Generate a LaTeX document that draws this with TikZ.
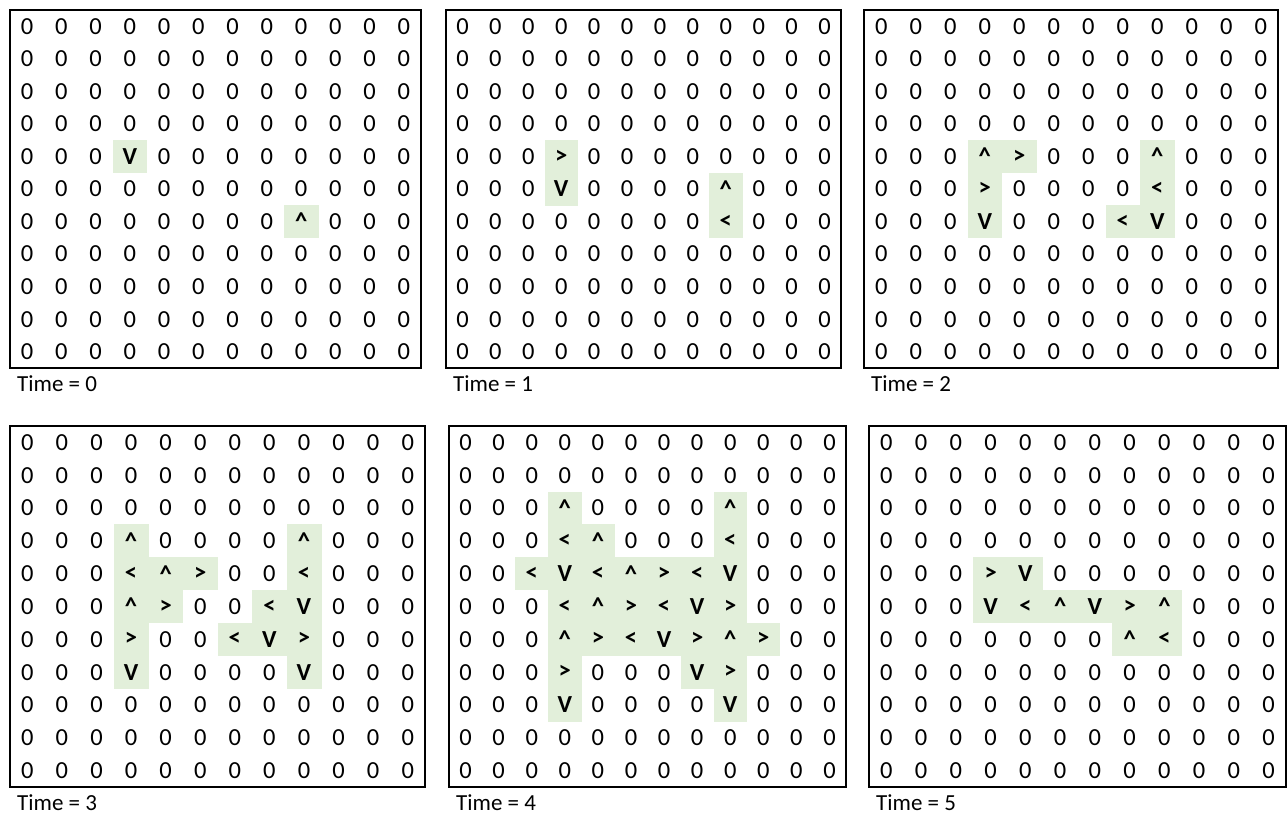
\documentclass[tikz,border=0pt]{standalone}
\usepackage{fontspec}
\setmainfont{Carlito}
\usetikzlibrary{positioning}

\definecolor{cellgreen}{HTML}{E2EFDA}

% glyph for each direction
\newcommand\glu{\textasciicircum}
\newcommand\gld{V}
\newcommand\gll{<}
\newcommand\glr{>}

% store the non-zero cells of one panel
\newcommand\setmoves[2]{%
  \foreach \row/\col/\dir in {#2}{\expandafter\xdef\csname mv#1-\row-\col\endcsname{\dir}}}

% one grid: id, left, top, right, bottom, time
\newcommand\drawpanel[6]{%
  \pgfmathsetmacro\cw{(#4-#2)/12}
  \pgfmathsetmacro\ch{(#5-#3)/11}
  \foreach \row in {0,...,10}{
    \foreach \col in {0,...,11}{
      \ifcsname mv#1-\row-\col\endcsname
        \fill[shade] ({#2+\col*\cw},{#3+\row*\ch}) rectangle ++({\cw+0.4},{\ch+0.4});
        \node[movecell] (p#1-\row-\col) at ({#2+(\col+0.5)*\cw},{#3+(\row+0.5)*\ch})
          {\csname gl\csname mv#1-\row-\col\endcsname\endcsname};
      \else
        \node[zerocell] (p#1-\row-\col) at ({#2+(\col+0.5)*\cw},{#3+(\row+0.5)*\ch}) {0};
      \fi
    }
  }
  \draw[frame] (#2,#3) rectangle (#4,#5);
  \draw[frame, line width=2] (#4,#3) -- (#4,#5) -- (#2,#5);
  \node[timelabel] (t#1) at (#2+7,#5+16) {Time = #6};
}

\begin{document}
\begin{tikzpicture}[
  x=1pt, y=-1pt,
  zerocell/.style={inner sep=0pt, font=\fontsize{24.5}{26}\selectfont},
  movecell/.style={inner sep=0pt, font=\fontsize{24.5}{26}\selectfont\bfseries},
  shade/.style={fill=cellgreen},
  frame/.style={draw=black, line width=1.1},
  timelabel/.style={anchor=west, inner sep=0pt, font=\fontsize{23}{25}\selectfont}
]
\useasboundingbox (0,0) rectangle (1288,814);

\setmoves{0}{4/3/d, 6/8/u}
\setmoves{1}{4/3/r, 5/3/d, 5/8/u, 6/8/l}
\setmoves{2}{4/3/u, 4/4/r, 5/3/r, 6/3/d, 4/8/u, 5/8/l, 6/7/l, 6/8/d}
\setmoves{3}{3/3/u, 4/3/l, 4/4/u, 4/5/r, 5/3/u, 5/4/r, 6/3/r, 7/3/d,
  3/8/u, 4/8/l, 5/7/l, 5/8/d, 6/6/l, 6/7/d, 6/8/r, 7/8/d}
\setmoves{4}{2/3/u, 2/8/u, 3/3/l, 3/4/u, 3/8/l,
  4/2/l, 4/3/d, 4/4/l, 4/5/u, 4/6/r, 4/7/l, 4/8/d,
  5/3/l, 5/4/u, 5/5/r, 5/6/l, 5/7/d, 5/8/r,
  6/3/u, 6/4/r, 6/5/l, 6/6/d, 6/7/r, 6/8/u, 6/9/r,
  7/3/r, 7/7/d, 7/8/r, 8/3/d, 8/8/d}
\setmoves{5}{4/3/r, 4/4/d, 5/3/d, 5/4/l, 5/5/u, 5/6/d, 5/7/r, 5/8/u, 6/7/u, 6/8/l}

% top row
\drawpanel{0}{10}{10}{421}{368}{0}
\drawpanel{1}{446}{10}{841}{368}{1}
\drawpanel{2}{864}{10}{1278}{368}{2}
% bottom row
\drawpanel{3}{10}{426}{425}{787}{3}
\drawpanel{4}{449}{426}{846}{787}{4}
\drawpanel{5}{869}{426}{1286}{787}{5}

\end{tikzpicture}
\end{document}
